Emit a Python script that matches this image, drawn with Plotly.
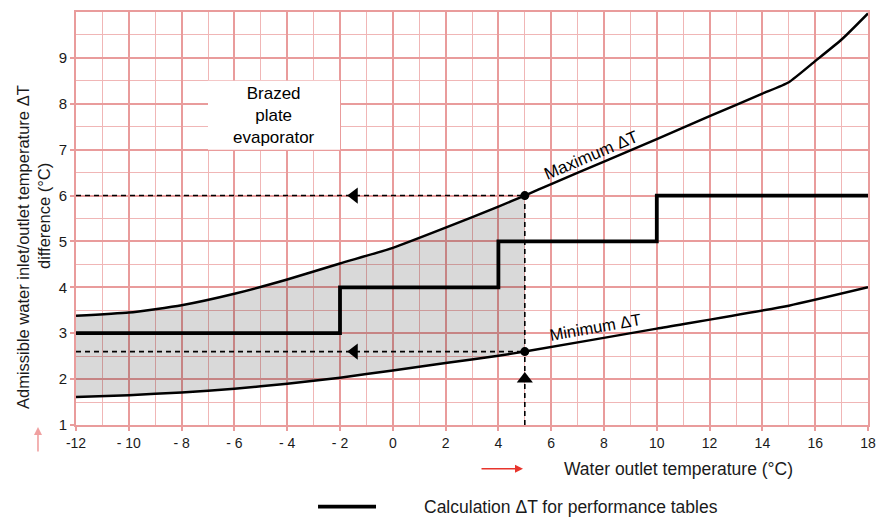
import plotly.graph_objects as go

# ---- data ----
x_max = [-12, -10, -8, -6, -4, -2, 0, 2, 4, 5, 6, 8, 10, 12, 14, 15, 16, 17, 18]
y_max = [3.38, 3.45, 3.61, 3.86, 4.17, 4.52, 4.86, 5.30, 5.76, 6.0, 6.25, 6.74, 7.23, 7.73, 8.22, 8.47, 8.93, 9.40, 9.97]

x_min = [-12, -10, -8, -6, -4, -2, 0, 2, 4, 5, 10, 15, 18]
y_min = [1.61, 1.65, 1.71, 1.79, 1.90, 2.03, 2.19, 2.35, 2.51, 2.60, 3.10, 3.60, 4.00]

step_x = [-12, -2, 4, 10, 18]
step_y = [3, 4, 5, 6, 6]

ref_x = 5
ref_max = 6.0
ref_min = 2.6
arrow_left_x = -1.46
arrow_up_y = 2.0

x_tickvals = [-12, -10, -8, -6, -4, -2, 0, 2, 4, 6, 8, 10, 12, 14, 16, 18]
x_ticktext = ["-12", "- 10", "- 8", "- 6", "- 4", "- 2", "0", "2", "4", "6", "8", "10", "12", "14", "16", "18"]
y_tickvals = [1, 2, 3, 4, 5, 6, 7, 8, 9]

FONT = "Liberation Sans, Arial, sans-serif"
GRID_MAJ = "#e99c9c"
GRID_MIN = "#f0b6b6"
TXT = "#1a1a1a"

fig = go.Figure()

# shaded admissible region up to the reference temperature
up = [(x, y) for x, y in zip(x_max, y_max) if x <= ref_x]
lo = [(x, y) for x, y in zip(x_min, y_min) if x <= ref_x]
poly_x = [p[0] for p in up] + [p[0] for p in reversed(lo)] + [up[0][0]]
poly_y = [p[1] for p in up] + [p[1] for p in reversed(lo)] + [up[0][1]]
fig.add_trace(go.Scatter(x=poly_x, y=poly_y, mode="lines", fill="toself",
                         fillcolor="rgba(0,0,0,0.15)", line=dict(width=0),
                         hoverinfo="skip", showlegend=False))

# dashed reference lines
dash = dict(color="black", width=1.6, dash="5px,4px")
fig.add_trace(go.Scatter(x=[x_max[0], ref_x], y=[ref_max, ref_max], mode="lines", line=dash, showlegend=False))
fig.add_trace(go.Scatter(x=[x_min[0], ref_x], y=[ref_min, ref_min], mode="lines", line=dash, showlegend=False))
fig.add_trace(go.Scatter(x=[ref_x, ref_x], y=[1, ref_max], mode="lines", line=dash, showlegend=False))

# max / min curves
fig.add_trace(go.Scatter(x=x_max, y=y_max, mode="lines",
                         line=dict(color="black", width=2.5, shape="spline", smoothing=0.5),
                         name="Maximum ΔT", showlegend=False))
fig.add_trace(go.Scatter(x=x_min, y=y_min, mode="lines",
                         line=dict(color="black", width=2.5, shape="spline", smoothing=0.5),
                         name="Minimum ΔT", showlegend=False))

# calculation step line
fig.add_trace(go.Scatter(x=step_x, y=step_y, mode="lines", line=dict(color="black", width=3.8, shape="hv"),
                         name="Calculation ΔT for performance tables", showlegend=False))

# arrows and dots
fig.add_trace(go.Scatter(x=[arrow_left_x, arrow_left_x], y=[ref_max, ref_min], mode="markers",
                         marker=dict(symbol="triangle-left", size=14, color="black"), showlegend=False))
fig.add_trace(go.Scatter(x=[ref_x], y=[arrow_up_y], mode="markers",
                         marker=dict(symbol="triangle-up", size=14, color="black"), showlegend=False))
fig.add_trace(go.Scatter(x=[ref_x, ref_x], y=[ref_max, ref_min], mode="markers",
                         marker=dict(symbol="circle", size=9, color="black"), showlegend=False))

# white label box
fig.add_shape(type="rect", x0=-7, x1=-2, y0=7, y1=8.5, fillcolor="white", line=dict(width=0), layer="above")
fig.add_annotation(x=-4.5, y=7.75, text="Brazed<br>plate<br>evaporator", showarrow=False,
                   xanchor="center", yanchor="middle",
                   font=dict(family=FONT, size=17, color="black"))

fig.add_annotation(x=7.5, y=6.88, text="Maximum ΔT", textangle=-23, showarrow=False,
                   xanchor="center", yanchor="middle",
                   font=dict(family=FONT, size=17, color="black"))
fig.add_annotation(x=7.66, y=3.13, text="Minimum ΔT", textangle=-10, showarrow=False,
                   xanchor="center", yanchor="middle",
                   font=dict(family=FONT, size=16.5, color="black"))

# axis titles
fig.add_annotation(xref="paper", yref="paper", x=0.6136, y=-0.106, text="Water outlet temperature (°C)",
                   showarrow=False, xanchor="left", yanchor="middle",
                   font=dict(family=FONT, size=17.5, color=TXT))
fig.add_annotation(xref="paper", yref="paper", x=0.5644, y=-0.106, ax=-43, ay=0, text="",
                   showarrow=True, arrowhead=2, arrowsize=1, arrowwidth=1.6, arrowcolor="#e8342c")
fig.add_annotation(xref="paper", yref="paper", x=-0.0669, y=0.431,
                   text="Admissible water inlet/outlet temperature ΔT", textangle=-90,
                   showarrow=False, xanchor="center", yanchor="middle",
                   font=dict(family=FONT, size=16.5, color=TXT))
fig.add_annotation(xref="paper", yref="paper", x=-0.0404, y=0.506,
                   text="difference (°C)", textangle=-90,
                   showarrow=False, xanchor="center", yanchor="middle",
                   font=dict(family=FONT, size=16.5, color=TXT))
fig.add_annotation(xref="paper", yref="paper", x=-0.048, y=-0.005, ax=0, ay=26, text="",
                   showarrow=True, arrowhead=2, arrowsize=1, arrowwidth=1.6, arrowcolor="#f0a0a0")

# legend drawn at the bottom
fig.add_shape(type="line", xref="paper", yref="paper", x0=0.3056, x1=0.3788, y0=-0.1976, y1=-0.1976,
              line=dict(color="black", width=3.6))
fig.add_annotation(xref="paper", yref="paper", x=0.4369, y=-0.1976, xanchor="left", yanchor="middle",
                   text="Calculation ΔT for performance tables", showarrow=False,
                   font=dict(family=FONT, size=17.5, color=TXT))

fig.update_xaxes(range=[-12, 18], tickvals=x_tickvals, ticktext=x_ticktext,
                 showgrid=True, gridcolor=GRID_MAJ, gridwidth=1.6,
                 minor=dict(dtick=1, tick0=-12, showgrid=True, gridcolor=GRID_MIN, gridwidth=1.2),
                 ticks="outside", ticklen=4, tickcolor=GRID_MAJ, tickwidth=1.5,
                 showline=True, mirror=True, linecolor=GRID_MAJ, linewidth=1.6,
                 zeroline=False, tickfont=dict(family=FONT, size=14, color=TXT))
fig.update_yaxes(range=[1, 10], tickvals=y_tickvals,
                 showgrid=True, gridcolor=GRID_MAJ, gridwidth=1.6,
                 minor=dict(dtick=0.5, tick0=1, showgrid=True, gridcolor=GRID_MIN, gridwidth=1.2),
                 ticks="outside", ticklen=4, tickcolor=GRID_MAJ, tickwidth=1.5,
                 showline=True, mirror=True, linecolor=GRID_MAJ, linewidth=1.6,
                 zeroline=False, tickfont=dict(family=FONT, size=15, color=TXT))

# the page has an 8px body margin, so the figure is sized to fill the rest of the window
fig.update_layout(width=880, height=511, margin=dict(l=68, r=20, t=2, b=94),
                  plot_bgcolor="white", paper_bgcolor="white", showlegend=False,
                  font=dict(family=FONT))

fig.write_html("out.html")
